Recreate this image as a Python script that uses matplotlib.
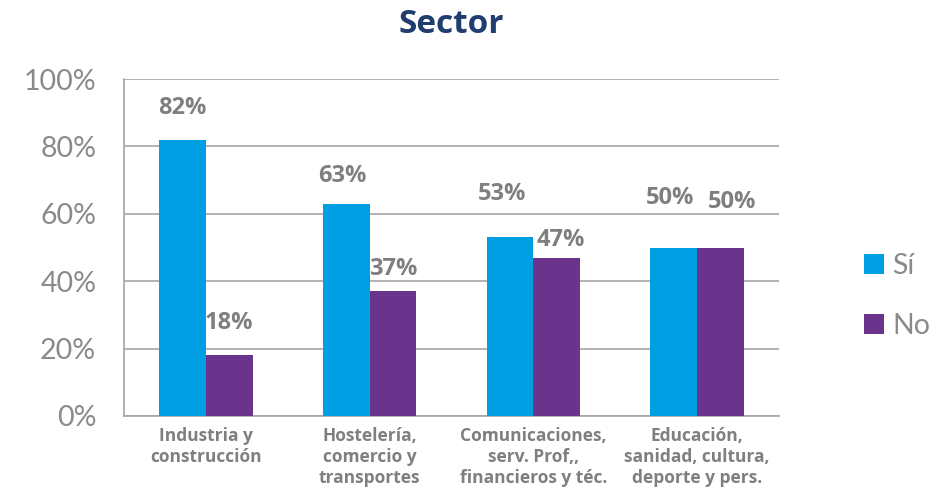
import matplotlib
matplotlib.use("Agg")
import matplotlib.pyplot as plt
import numpy as np

categories = ["Industria y\nconstrucción", "Hostelería,\ncomercio y\ntransportes",
              "Comunicaciones,\nserv. Prof,,\nfinancieros y téc.", "Educación,\nsanidad, cultura,\ndeporte y pers."]
si = [82, 63, 53, 50]
no = [18, 37, 47, 50]
series_names = ["Sí", "No"]
yticks = [0, 20, 40, 60, 80, 100]

# label offsets (dx, dy) in points, as placed in the reference
si_off = [(0, 23), (-3, 20), (-6, 31), (-3, 36)]
no_off = [(0, 23), (0, 16), (3, 13), (8, 33)]

plt.rcParams['font.family'] = ['Lato', 'DejaVu Sans']
BOLD = ['Open Sans', 'DejaVu Sans']
BLUE = "#009FE3"
PURPLE = "#6A348C"
GRAY = "#7F7F7F"

fig = plt.figure(figsize=(9.49, 4.93), dpi=100)
ax = fig.add_axes([124/949, 1-416/493, (779-124)/949, (416-79)/493])

x = np.arange(len(categories))
w = 0.285
b1 = ax.bar(x - w/2, si, w, color=BLUE, label=series_names[0], zorder=3)
b2 = ax.bar(x + w/2, no, w, color=PURPLE, label=series_names[1], zorder=3)

for vals, bars, offs in ((si, b1, si_off), (no, b2, no_off)):
    for i, r in enumerate(bars):
        ax.annotate(f"{vals[i]}%", (r.get_x()+r.get_width()/2, r.get_height()),
                    xytext=offs[i], textcoords="offset points", ha="center", va="center",
                    fontsize=17, fontweight="bold", color=GRAY, family=BOLD)

ax.set_xlim(-0.5, len(categories)-0.5)
ax.set_ylim(0, 100)
ax.set_yticks(yticks)
ax.set_yticklabels([f"{t}%" for t in yticks], fontsize=20.5, color="#8A8A8A", fontweight="normal")
ax.set_xticks(x)
ax.set_xticklabels(categories, fontsize=12.5, fontweight="bold", color=GRAY,
                   linespacing=1.2, va="top", family=BOLD)
ax.tick_params(axis="x", length=0, pad=8)
ax.tick_params(axis="y", length=0, pad=20)
ax.grid(axis="y", color="#A6A6A6", linewidth=1.2, zorder=0)
for s in ["top", "right"]:
    ax.spines[s].set_visible(False)
for s in ["left", "bottom"]:
    ax.spines[s].set_color("#A6A6A6")
    ax.spines[s].set_linewidth(1.2)

ax.set_title("Sector", fontsize=24, fontweight="bold", color="#1F3D6E", pad=33, family=BOLD)

leg = fig.legend(handles=[b1, b2], labels=series_names, loc="center left",
                 bbox_to_anchor=(838/949, 1-296/493), frameon=False,
                 labelspacing=1.2, handlelength=0.7, handleheight=0.7,
                 handletextpad=0.3, prop={'size': 20.5})
for t in leg.get_texts():
    t.set_color("#8A8A8A")

fig.savefig("out.png", dpi=100)
